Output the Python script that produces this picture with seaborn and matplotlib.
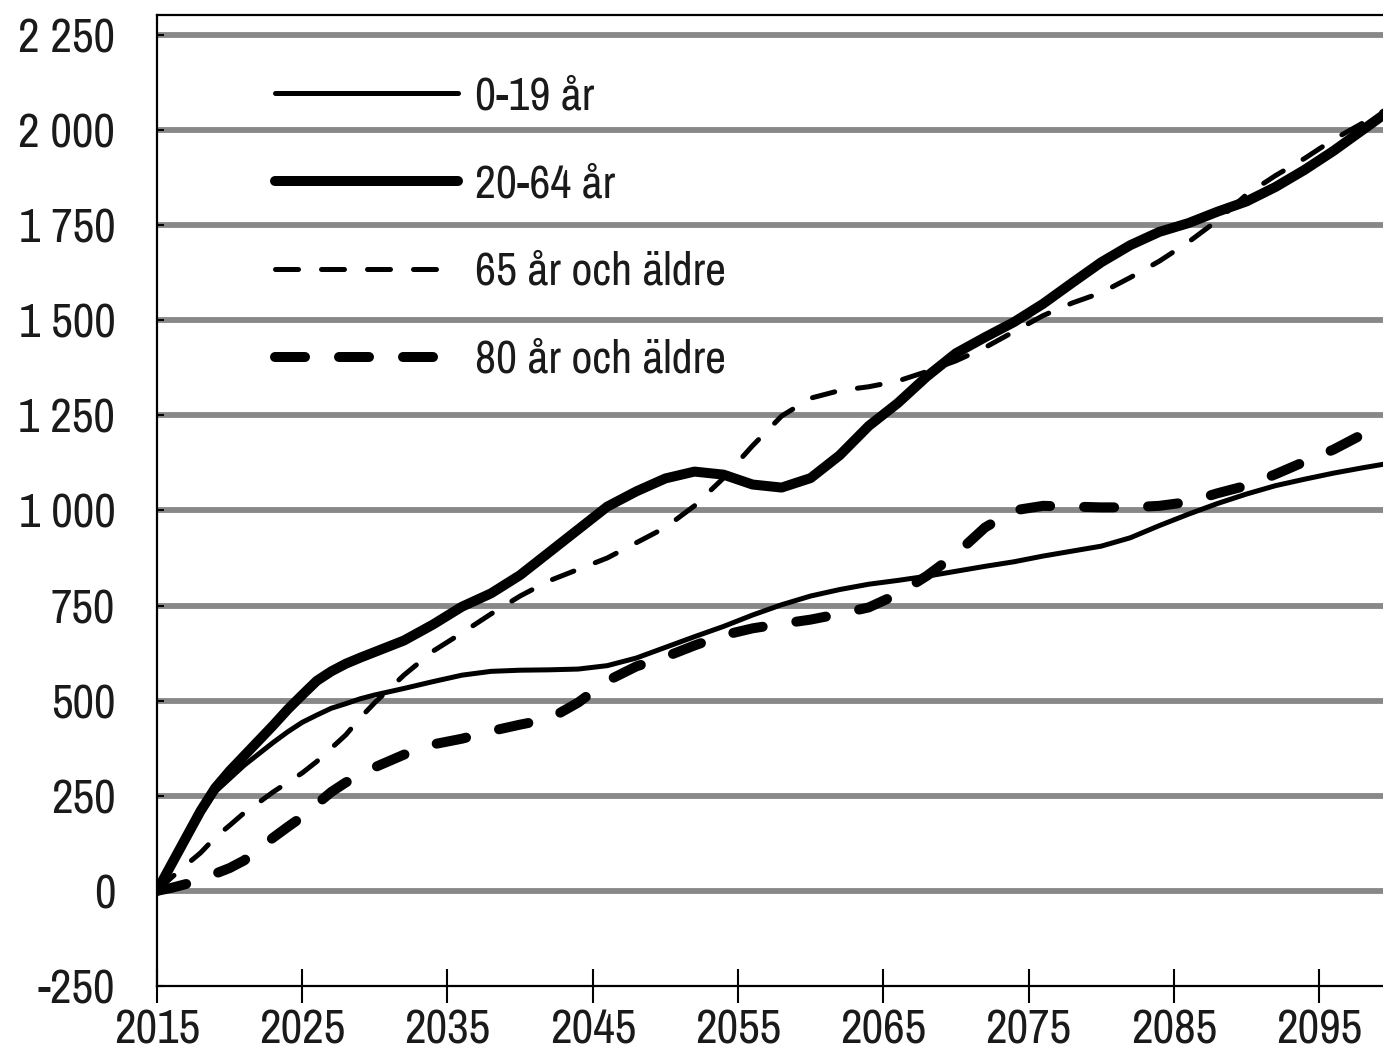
import numpy as np
import pandas as pd
import matplotlib
matplotlib.use("Agg")
import matplotlib.pyplot as plt
import matplotlib.ticker as mticker
from matplotlib import font_manager
import seaborn as sns

# ── data ──────────────────────────────────────────────────────
years = [2015, 2016, 2017, 2018, 2019, 2020, 2021, 2022, 2023, 2024, 2025,
         2026, 2027, 2028, 2029, 2030, 2032, 2034, 2036, 2038, 2040, 2042,
         2044, 2046, 2048, 2050, 2052, 2054, 2056, 2058, 2060, 2062, 2064,
         2066, 2068, 2070, 2072, 2074, 2076, 2078, 2080, 2082, 2084, 2086,
         2088, 2090, 2092, 2094, 2096, 2098, 2100]

age_0_19 = [0, 68, 135, 200, 260, 295, 330, 360, 390, 418, 443,
            462, 480, 492, 505, 515, 532, 550, 567, 577, 580, 581,
            583, 592, 612, 640, 668, 695, 725, 752, 775, 792, 806,
            816, 827, 840, 853, 865, 880, 893, 906, 928, 960, 990,
            1018, 1043, 1065, 1082, 1098, 1112, 1125]

age_20_64 = [0, 70, 140, 210, 270, 315, 355, 395, 435, 477, 515,
             552, 577, 597, 613, 628, 658, 700, 747, 782, 830, 890,
             950, 1010, 1050, 1084, 1102, 1094, 1068, 1060, 1085, 1145, 1222,
             1282, 1352, 1413, 1455, 1495, 1543, 1598, 1652, 1697, 1732, 1755,
             1785, 1812, 1850, 1895, 1945, 2000, 2055]

age_65_plus = [0, 35, 68, 100, 140, 172, 205, 232, 260, 285, 310,
               340, 375, 410, 455, 495, 567, 630, 678, 728, 775, 815,
               845, 875, 915, 955, 1012, 1085, 1170, 1248, 1295, 1315, 1325,
               1340, 1365, 1393, 1428, 1470, 1512, 1545, 1572, 1612, 1655, 1705,
               1762, 1830, 1880, 1925, 1975, 2018, 2062]

age_80_plus = [0, 8, 18, 30, 45, 60, 80, 110, 140, 168, 195,
               228, 260, 285, 305, 325, 358, 385, 400, 420, 437, 452,
               495, 552, 590, 615, 645, 672, 690, 702, 713, 728, 745,
               780, 828, 885, 955, 1000, 1012, 1010, 1008, 1008, 1012, 1022,
               1045, 1065, 1095, 1128, 1160, 1200, 1245]

labels = ["0-19 år", "20-64 år", "65 år och äldre", "80 år och äldre"]
y_ticks = list(range(-250, 2251, 250))
x_ticks = list(range(2015, 2100, 10))

df = pd.DataFrame({
    "year": years * 4,
    "value": age_0_19 + age_20_64 + age_65_plus + age_80_plus,
    "group": np.repeat(labels, len(years)),
})

# ── style ─────────────────────────────────────────────────────
sns.set_theme(style="white")

# the reference uses a narrow grotesque; take a condensed face if one exists
narrow = None
for f in font_manager.fontManager.ttflist:
    if "Narrow" in f.name or "Condensed" in f.name:
        narrow = (f.name, "normal")
        break
if narrow is None:
    for f in font_manager.fontManager.ttflist:
        if f.stretch in ("condensed", "semi-condensed") and f.style == "normal":
            narrow = (f.name, f.stretch)
            break

if narrow is not None:
    plt.rcParams["font.family"] = [narrow[0], "DejaVu Sans"]
    plt.rcParams["font.stretch"] = narrow[1]
    tick_size, leg_size = 34, 33
else:
    plt.rcParams["font.family"] = ["DejaVu Sans"]
    tick_size, leg_size = 27, 27

plt.rcParams["lines.solid_capstyle"] = "round"
plt.rcParams["lines.dash_capstyle"] = "round"

widths = {labels[0]: 3.6, labels[1]: 7.2, labels[2]: 3.6, labels[3]: 7.2}
dashes = {labels[0]: "", labels[1]: "", labels[2]: (4.6, 4.6), labels[3]: (3.0, 3.4)}

fig = plt.figure(figsize=(13.83, 10.64), dpi=100)
ax = fig.add_axes([0.1135, 0.0733, 0.8865, 0.9126])

for name in labels:
    sub = df[df["group"] == name]
    sns.lineplot(data=sub, x="year", y="value", ax=ax, color="black",
                 linewidth=widths[name], label=name, legend=False)
    if dashes[name]:
        ax.lines[-1].set_dashes(dashes[name])

ax.set_xlim(2015, 2099.4)
ax.set_ylim(-250, 2302)
ax.set_xticks(x_ticks)
ax.set_yticks(y_ticks)
ax.yaxis.set_major_formatter(mticker.FuncFormatter(
    lambda v, p: f"{int(v):,}".replace(",", " ")))
ax.set_xlabel("")
ax.set_ylabel("")

ax.grid(axis="y", color="#888888", linewidth=4.2)
ax.set_axisbelow(True)
ax.yaxis.get_gridlines()[0].set_visible(False)

for side in ["left", "top", "bottom"]:
    ax.spines[side].set_color("black")
    ax.spines[side].set_linewidth(1.6)
ax.spines["right"].set_visible(False)

ax.tick_params(axis="y", direction="in", length=5, width=1.5, color="black",
               labelsize=tick_size, labelcolor="#1a1a1a", pad=30, left=True)
ax.tick_params(axis="x", direction="inout", length=25, width=1.5, color="black",
               labelsize=tick_size, labelcolor="#1a1a1a", pad=4, bottom=True)

fs_px = leg_size * 100 / 72
handles = ax.get_lines()[:4]
leg = ax.legend(handles, labels, loc="upper left", bbox_to_anchor=(0.096, 0.938),
                frameon=False, fontsize=leg_size, handlelength=183 / fs_px,
                handletextpad=17 / fs_px, labelspacing=1.0,
                borderaxespad=0, borderpad=0)
for t in leg.get_texts():
    t.set_color("#1a1a1a")

fig.savefig("out.png", dpi=100)
